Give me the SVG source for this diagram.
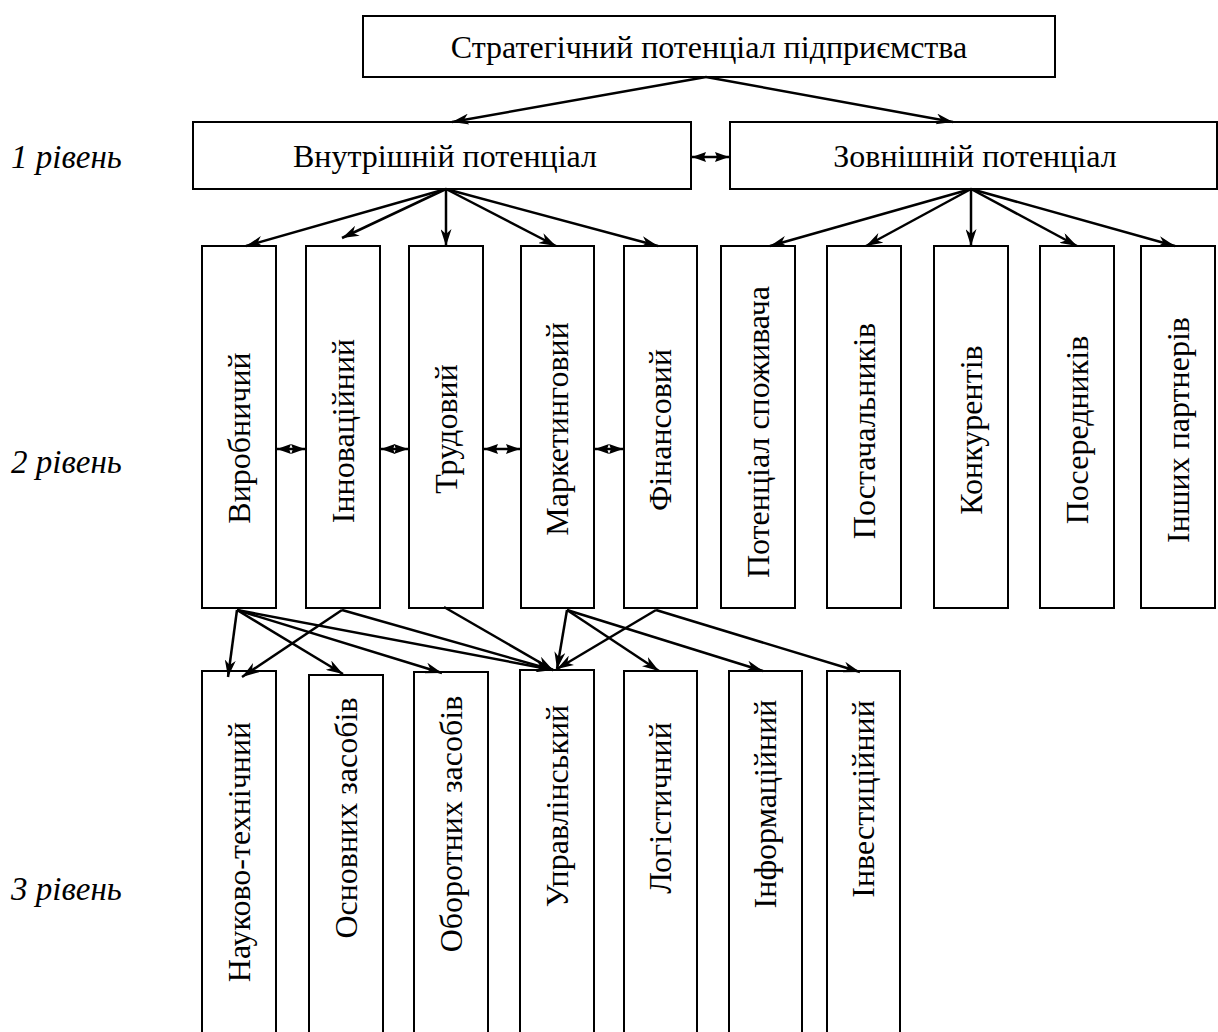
<svg xmlns="http://www.w3.org/2000/svg" width="1218" height="1032" viewBox="0 0 1218 1032">
<style>
.b{fill:#fff;stroke:#000;stroke-width:2}
.t{font-family:"Liberation Serif","Times New Roman",serif;font-size:32px;fill:#000;text-anchor:middle}
.l{font-family:"Liberation Serif","Times New Roman",serif;font-size:33px;font-style:italic;fill:#000}
.c{stroke:#000;stroke-width:2.5;fill:none;marker-end:url(#ah)}
.d{stroke:#000;stroke-width:2.5;fill:none;marker-start:url(#dh);marker-end:url(#dh)}
</style>
<defs>
<marker id="ah" viewBox="0 0 17 11" refX="17" refY="5.5" markerWidth="17" markerHeight="11" orient="auto" markerUnits="userSpaceOnUse"><path d="M0,0 L17,5.5 L0,11 L5,5.5 z" fill="#000"/></marker>
<marker id="dh" viewBox="0 0 14 10" refX="14" refY="5" markerWidth="14" markerHeight="10" orient="auto-start-reverse" markerUnits="userSpaceOnUse"><path d="M0,0 L14,5 L0,10 L2,5 z" fill="#000"/></marker>
</defs>
<rect width="1218" height="1032" fill="#fff"/>
<g id="labels">
<text class="l" x="11" y="168">1 рівень</text>
<text class="l" x="11" y="473">2 рівень</text>
<text class="l" x="11" y="900">3 рівень</text>
</g>
<g id="n-top"><rect class="b" x="363" y="16" width="692" height="61"/><text class="t" x="709" y="58">Стратегічний потенціал підприємства</text></g>
<g id="n-int"><rect class="b" x="193" y="122" width="498" height="67"/><text class="t" x="445" y="167">Внутрішній потенціал</text></g>
<g id="n-ext"><rect class="b" x="730" y="122" width="487" height="67"/><text class="t" x="975" y="167">Зовнішній потенціал</text></g>
<g id="n-vyr"><rect class="b" x="202" y="246" width="74" height="362"/><text class="t" transform="translate(239,438) rotate(-90)" dy="0.35em">Виробничий</text></g>
<g id="n-inn"><rect class="b" x="306" y="246" width="74" height="362"/><text class="t" transform="translate(343,431) rotate(-90)" dy="0.35em">Інноваційний</text></g>
<g id="n-tru"><rect class="b" x="409" y="246" width="74" height="362"/><text class="t" transform="translate(446,429) rotate(-90)" dy="0.35em">Трудовий</text></g>
<g id="n-mar"><rect class="b" x="521" y="246" width="73" height="362"/><text class="t" transform="translate(557,429) rotate(-90)" dy="0.35em">Маркетинговий</text></g>
<g id="n-fin"><rect class="b" x="624" y="246" width="73" height="362"/><text class="t" transform="translate(660,430) rotate(-90)" dy="0.35em">Фінансовий</text></g>
<g id="n-spo"><rect class="b" x="721" y="246" width="74" height="362"/><text class="t" transform="translate(758,432) rotate(-90)" dy="0.35em">Потенціал споживача</text></g>
<g id="n-pos"><rect class="b" x="827" y="246" width="74" height="362"/><text class="t" transform="translate(864,431) rotate(-90)" dy="0.35em">Постачальників</text></g>
<g id="n-kon"><rect class="b" x="934" y="246" width="74" height="362"/><text class="t" transform="translate(971,430) rotate(-90)" dy="0.35em">Конкурентів</text></g>
<g id="n-ser"><rect class="b" x="1040" y="246" width="74" height="362"/><text class="t" transform="translate(1077,430) rotate(-90)" dy="0.35em">Посередників</text></g>
<g id="n-par"><rect class="b" x="1141" y="246" width="74" height="362"/><text class="t" transform="translate(1178,430) rotate(-90)" dy="0.35em">Інших партнерів</text></g>
<g id="n-nt"><rect class="b" x="202" y="671" width="74" height="380"/><text class="t" transform="translate(239,852) rotate(-90)" dy="0.35em">Науково-технічний</text></g>
<g id="n-oz"><rect class="b" x="309" y="675" width="74" height="380"/><text class="t" transform="translate(346,818) rotate(-90)" dy="0.35em">Основних засобів</text></g>
<g id="n-obz"><rect class="b" x="414" y="672" width="74" height="380"/><text class="t" transform="translate(451,824) rotate(-90)" dy="0.35em">Оборотних засобів</text></g>
<g id="n-upr"><rect class="b" x="520" y="670" width="74" height="380"/><text class="t" transform="translate(557,806) rotate(-90)" dy="0.35em">Управлінський</text></g>
<g id="n-log"><rect class="b" x="624" y="671" width="73" height="380"/><text class="t" transform="translate(660,808) rotate(-90)" dy="0.35em">Логістичний</text></g>
<g id="n-inf"><rect class="b" x="729" y="671" width="73" height="380"/><text class="t" transform="translate(765,804) rotate(-90)" dy="0.35em">Інформаційний</text></g>
<g id="n-inv"><rect class="b" x="827" y="671" width="73" height="380"/><text class="t" transform="translate(863,799) rotate(-90)" dy="0.35em">Інвестиційний</text></g>
<g id="connectors">
<line class="c" x1="706" y1="77" x2="452" y2="122"/>
<line class="c" x1="706" y1="77" x2="953" y2="122"/>
<line class="d" x1="692" y1="157" x2="729" y2="157"/>
<line class="c" x1="446" y1="189" x2="246" y2="246"/>
<line class="c" x1="446" y1="189" x2="342" y2="238"/>
<line class="c" x1="446" y1="189" x2="446" y2="246"/>
<line class="c" x1="446" y1="189" x2="556" y2="246"/>
<line class="c" x1="446" y1="189" x2="658" y2="246"/>
<line class="c" x1="971" y1="189" x2="770" y2="246"/>
<line class="c" x1="971" y1="189" x2="866" y2="246"/>
<line class="c" x1="971" y1="189" x2="971" y2="246"/>
<line class="c" x1="971" y1="189" x2="1077" y2="246"/>
<line class="c" x1="971" y1="189" x2="1175" y2="246"/>
<line class="d" x1="277" y1="449" x2="305" y2="449"/>
<line class="d" x1="381" y1="449" x2="408" y2="449"/>
<line class="d" x1="484" y1="449" x2="520" y2="449"/>
<line class="d" x1="595" y1="449" x2="623" y2="449"/>
<line class="c" x1="237" y1="610" x2="228" y2="677"/>
<line class="c" x1="237" y1="610" x2="343" y2="674"/>
<line class="c" x1="237" y1="610" x2="442" y2="673"/>
<line class="c" x1="237" y1="610" x2="553" y2="670"/>
<line class="c" x1="342" y1="610" x2="242" y2="677"/>
<line class="c" x1="342" y1="610" x2="553" y2="670"/>
<line class="c" x1="444" y1="607" x2="553" y2="670"/>
<line class="c" x1="567" y1="610" x2="557" y2="669"/>
<line class="c" x1="567" y1="610" x2="659" y2="671"/>
<line class="c" x1="567" y1="610" x2="763" y2="671"/>
<line class="c" x1="656" y1="610" x2="557" y2="669"/>
<line class="c" x1="656" y1="610" x2="860" y2="672"/>
</g>
</svg>
